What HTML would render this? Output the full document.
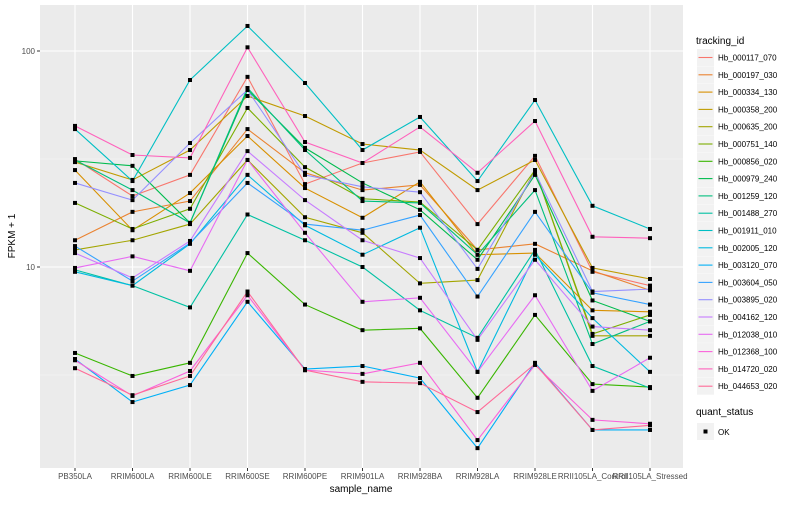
<!DOCTYPE html>
<html><head><meta charset="utf-8"><style>
html,body{margin:0;padding:0;background:#fff;}
svg text{font-family:"Liberation Sans",Arial,sans-serif;}
</style></head><body>
<svg id="chart" width="800" height="500" xmlns="http://www.w3.org/2000/svg">
<rect x="0" y="0" width="800" height="500" fill="#fff"/>
<rect x="40" y="5" width="643" height="463" fill="#EBEBEB"/>
<g id="grid"></g><g id="series"></g><g id="axes"></g><g id="legend"></g>
</svg>
<script>
const categories=["PB350LA","RRIM600LA","RRIM600LE","RRIM600SE","RRIM600PE","RRIM901LA","RRIM928BA","RRIM928LA","RRIM928LE","RRII105LA_Control","RRII105LA_Stressed"];
const seriesNames=["Hb_000117_070","Hb_000197_030","Hb_000334_130","Hb_000358_200","Hb_000635_200","Hb_000751_140","Hb_000856_020","Hb_000979_240","Hb_001259_120","Hb_001488_270","Hb_001911_010","Hb_002005_120","Hb_003120_070","Hb_003604_050","Hb_003895_020","Hb_004162_120","Hb_012038_010","Hb_012368_100","Hb_014720_020","Hb_044653_020"];
const s01=[31.6,21.3,26.7,75.9,24.2,30.3,34.1,15.8,32.7,9.5,8.2];
const s02=[13.3,18,20.2,43.5,27.3,22.7,24,12,12.8,9.6,7.8];
const s03=[28.1,14.8,22,40.4,23.2,16.9,24.8,11.4,11.6,6.3,6.2];
const s04=[30.6,25.3,34.8,61.9,50,37.1,34.8,22.7,31.3,9.9,8.8];
const s05=[12,13.3,15.8,31.3,17,14.4,8.4,8.7,28.1,4.8,4.8];
const s06=[19.8,15,18.6,54.5,29,20.7,20,12,28.1,4.9,6.0];
const s07=[4.0,3.13,3.6,11.6,6.7,5.1,5.2,2.48,6.0,2.87,2.78];
const s08=[31,29.4,16,66,35.6,24.5,18.4,10.8,26.7,7.0,5.6];
const s09=[31.3,22.7,16,67.4,34.8,20.2,19.8,11.4,22.7,4.4,5.6];
const s10=[9.7,8.2,6.5,17.5,13.3,10,6.3,4.7,12,3.48,2.75];
const s11=[43.5,25,73.4,130.6,71.1,34.8,49.5,25,59.3,19.2,15];
const s12=[9.5,8.2,12.8,26.7,15.6,11.4,15.2,3.27,11.4,5.8,3.27];
const s13=[3.75,2.37,2.84,6.9,3.37,3.48,3.06,1.45,3.6,1.76,1.76];
const s14=[12.5,8.6,12.9,24.5,15.8,14.8,17.4,7.3,18,7.6,6.7];
const s15=[24.5,20.4,37.5,66,26.7,23.5,22.2,9.8,27.5,7.7,7.9];
const s16=[11.6,8.9,13.2,34.4,20.4,13.3,11,4.6,10.8,5.3,5.1];
const s17=[9.9,11.2,9.6,31.3,14.4,6.9,7.2,3.27,7.4,2.67,3.8];
const s18=[3.7,2.53,3.3,7.4,3.33,3.2,3.6,1.58,3.52,1.96,1.88];
const s19=[45,33,32,104,37.9,30.3,44.5,27.3,47.4,13.8,13.6];
const s20=[3.4,2.55,3.13,7.7,3.33,2.94,2.9,2.13,3.56,1.76,1.85];
const seriesValues=[s01,s02,s03,s04,s05,s06,s07,s08,s09,s10,s11,s12,s13,s14,s15,s16,s17,s18,s19,s20];
const yTickValues=[10,100];
const yTickLabels=["10","100"];

const NS="http://www.w3.org/2000/svg";
function mk(tag,attrs,parent){const e=document.createElementNS(NS,tag);for(const k in attrs)e.setAttribute(k,attrs[k]);parent.appendChild(e);return e;}
const X0=75, DX=57.5;
function xScale(i){return X0+i*DX;}
function yScale(v){return 267-(Math.log10(v)-1)*216;}
function hcl(h){const L=65,C=100,hr=h*Math.PI/180;const U=C*Math.cos(hr),V=C*Math.sin(hr);
const Y=Math.pow((L+16)/116,3);const un=0.1978398,vn=0.4683363;const u=U/(13*L)+un,v=V/(13*L)+vn;
const X=9*Y*u/(4*v),Z=Y*(12-3*u-20*v)/(4*v);
let r=3.2404542*X-1.5371385*Y-0.4985314*Z,g=-0.9692660*X+1.8760108*Y+0.0415560*Z,b=0.0556434*X-0.2040259*Y+1.0572252*Z;
const gm=c=>{c=c<=0.0031308?12.92*c:1.055*Math.pow(c,1/2.4)-0.055;return Math.round(Math.max(0,Math.min(1,c))*255);};
return "rgb("+gm(r)+","+gm(g)+","+gm(b)+")";}
const colors=seriesNames.map((n,i)=>hcl(15+18*i));

const grid=document.getElementById("grid");
[Math.sqrt(10),Math.sqrt(1000)].forEach(v=>{const l=mk("line",{x1:40,x2:683,y1:yScale(v),y2:yScale(v),stroke:"#F5F5F5","stroke-width":0.6},grid);

});
yTickValues.forEach(v=>{const l=mk("line",{x1:40,x2:683,y1:yScale(v),y2:yScale(v),stroke:"#fff","stroke-width":1.1},grid);

});
categories.forEach((c,i)=>{const l=mk("line",{x1:xScale(i),x2:xScale(i),y1:5,y2:468,stroke:"#fff","stroke-width":1.1},grid);

});

const sg=document.getElementById("series");
seriesValues.forEach((vals,si)=>{
 const pts=vals.map((v,i)=>xScale(i)+","+yScale(v)).join(" ");
 const pl=mk("polyline",{points:pts,fill:"none",stroke:colors[si],"stroke-width":1.1},sg);
 
 
});
seriesValues.forEach((vals,si)=>{
 vals.forEach((v,i)=>{const r=mk("rect",{x:xScale(i)-2,y:yScale(v)-2,width:4,height:4,fill:"#000"},sg);
 
 });
});

const ax=document.getElementById("axes");
yTickValues.forEach((v,i)=>{
 const t=mk("line",{x1:37,x2:40,y1:yScale(v),y2:yScale(v),stroke:"#333","stroke-width":1},ax);
 
 
 const tx=mk("text",{x:35,y:yScale(v)+3,"text-anchor":"end","font-size":8,fill:"#4D4D4D"},ax);tx.textContent=yTickLabels[i];
 
 
});
categories.forEach((c,i)=>{
 const t=mk("line",{x1:xScale(i),x2:xScale(i),y1:468,y2:471,stroke:"#333","stroke-width":1},ax);
 
 
 const tx=mk("text",{x:xScale(i),y:479,"text-anchor":"middle","font-size":8,fill:"#4D4D4D"},ax);tx.textContent=c;
 
 
});
const xt=mk("text",{x:361,y:492,"text-anchor":"middle","font-size":10,fill:"#000"},ax);xt.textContent="sample_name";


const yt=mk("text",{x:15,y:236,"text-anchor":"middle","font-size":10,fill:"#000",transform:"rotate(-90 15 236)"},ax);yt.textContent="FPKM + 1";



const lg=document.getElementById("legend");
const lt=mk("text",{x:696,y:44,"font-size":10,fill:"#000"},lg);lt.textContent="tracking_id";


seriesNames.forEach((n,i)=>{
 const cy=57+i*17.3;
 const g=mk("g",{},lg);
 
 
 mk("rect",{x:697,y:cy-8,width:17,height:17,fill:"#F2F2F2"},g);
 mk("line",{x1:698.5,x2:712.5,y1:cy+0.5,y2:cy+0.5,stroke:colors[i],"stroke-width":1.1},g);
 const t=mk("text",{x:718,y:cy+3.5,"font-size":8,fill:"#000"},g);t.textContent=n;
});
const qt=mk("text",{x:696,y:415,"font-size":10,fill:"#000"},lg);qt.textContent="quant_status";


const qg=mk("g",{},lg);


mk("rect",{x:697,y:423,width:17,height:17,fill:"#F2F2F2"},qg);
mk("rect",{x:703.5,y:429.5,width:4,height:4,fill:"#000"},qg);
const qtx=mk("text",{x:718,y:435,"font-size":8,fill:"#000"},qg);qtx.textContent="OK";
</script>
</body></html>
